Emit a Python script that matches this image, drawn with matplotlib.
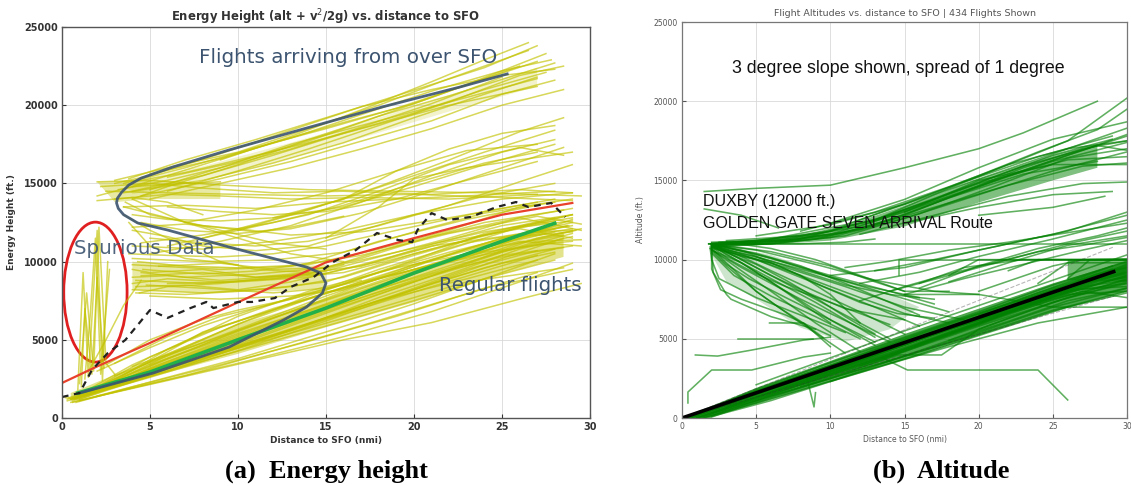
import matplotlib
matplotlib.use("Agg")
import matplotlib.pyplot as plt
from matplotlib.patches import Ellipse

# ---------------- panel (a): energy height ----------------
# regular flights, along the green reference line
REG_TRACKS = [
    ([0.3, 5, 10, 15, 20, 25, 28.5], [1100, 2600, 4300, 6200, 8200, 10200, 11500]),
    ([0.5, 5, 10, 15, 20, 25, 29], [1200, 2900, 4700, 6700, 8700, 10600, 11800]),
    ([0.6, 5, 10, 15, 20, 26, 29.2], [1300, 3100, 5100, 7100, 9000, 11200, 12000]),
    ([0.8, 5, 10, 15, 20, 25, 28], [1000, 2300, 3800, 5500, 7300, 9300, 10500]),
    ([1, 5, 10, 16, 21, 26, 29], [1100, 2200, 3500, 5200, 6800, 8700, 9900]),
    ([0.9, 5, 10, 15, 20, 25, 28.7], [1400, 3300, 5600, 7600, 9500, 11200, 12300]),
    ([1, 4, 8, 12, 16, 20, 24, 28], [1500, 3400, 5400, 7000, 8300, 9500, 10600, 11200]),
    ([0.5, 6, 11, 16, 21, 26, 29.5], [1000, 2400, 3700, 5000, 6100, 7600, 8600]),
    ([1.2, 5, 10, 15, 20, 24, 27.5], [1500, 3600, 6000, 8000, 9800, 11000, 11800]),
    ([1.5, 6, 11, 16, 22, 27, 29.5], [1600, 3600, 5600, 7600, 9600, 11300, 11400]),
    ([0.4, 3, 7, 12, 18, 24, 28], [1300, 2300, 3600, 5300, 7500, 9600, 10800]),
    ([0.7, 4, 9, 14, 19, 25, 29], [1200, 2700, 4700, 6600, 8400, 10400, 11000]),
    ([2, 6, 10, 14, 18, 22, 26, 29], [1800, 4000, 6000, 7800, 9300, 10600, 11700, 12300]),
    ([1, 5, 9, 13, 17, 21, 25, 28.5], [1300, 3000, 4600, 6100, 7700, 9200, 10300, 10900]),
    ([1.5, 5, 8, 12, 16, 20, 26, 29.5], [1700, 3600, 5500, 6900, 8300, 9500, 11300, 11000]),
    ([0.6, 4, 8, 13, 18, 23, 27], [1100, 2500, 3900, 5700, 7500, 8900, 10100]),
    ([2, 5, 9, 13, 17, 22, 27, 29], [2000, 3900, 5800, 7300, 8700, 10000, 11100, 11300]),
    ([3, 6, 10, 14, 19, 24, 29], [2400, 4400, 6500, 8100, 9600, 10700, 12700]),
    ([0.2, 1, 4, 9, 15, 21, 27], [1300, 1200, 2300, 4100, 6300, 8400, 10400]),
    ([1.3, 7, 12, 17, 23, 28.5], [1400, 3500, 5100, 6700, 8700, 9600]),
    ([0.5, 3, 6, 10, 14, 18, 22, 26, 29], [1200, 2000, 3000, 4500, 6000, 7700, 9200, 10800, 11600]),
    ([0.8, 3, 7, 11, 15, 19, 23, 27, 29.5], [1300, 2300, 3700, 5200, 6800, 8300, 9900, 11500, 12100]),
    ([1, 4, 7, 11, 15, 19, 23, 27], [1200, 2400, 3500, 4900, 6400, 7900, 9500, 10700]),
    ([0.3, 2, 5, 9, 13, 17, 21, 25, 28], [1200, 1800, 2800, 4200, 5600, 7100, 8600, 9900, 10600]),
    ([1.8, 5, 9, 13, 17, 21, 25, 28.5], [1600, 3200, 4900, 6500, 8000, 9600, 11000, 11700]),
    ([2.5, 6, 10, 14, 18, 22, 26, 29], [2200, 3800, 5400, 6900, 8500, 10100, 11600, 12100]),
    ([1, 6, 11, 16, 20, 24, 28], [1400, 3000, 4600, 6200, 7500, 8900, 10100]),
    ([4, 8, 12, 16, 20, 24, 28], [3300, 4800, 6400, 7900, 9400, 10900, 11900]),
    ([0.6, 4, 9, 14, 19, 24, 29], [1000, 2000, 3400, 4900, 6500, 8300, 9500]),
    ([2, 7, 12, 17, 22, 27], [1400, 2700, 4300, 5900, 7600, 9300]),
    ([5, 9, 13, 17, 21, 25, 29], [3400, 5100, 6800, 8500, 10100, 11500, 12500]),
    ([3, 7, 11, 15, 19, 23, 27, 29], [2700, 4400, 6100, 7800, 9300, 10800, 11900, 12000]),
    ([2, 5, 8, 11, 14, 17], [3000, 4500, 5900, 7000, 8000, 8800]),
    ([3, 6, 9, 12, 15, 18, 22, 26, 29], [3500, 5200, 6500, 7300, 8200, 9300, 10800, 12200, 13000]),
    ([2.5, 5, 8, 10, 13, 16, 20, 24, 28], [3400, 5000, 6300, 6900, 7600, 8600, 10100, 11800, 12800]),
]

# tracks that start near 4 nmi at 8000-10000 ft
MID_TRACKS = [
    ([4, 8, 12, 15, 20, 25, 29], [8200, 8000, 8300, 8700, 10500, 12000, 13000]),
    ([4.2, 8, 12, 16, 21, 26, 29], [8800, 8600, 8900, 9300, 10800, 12200, 12600]),
    ([4.5, 7, 11, 15, 19, 24, 28.5], [9300, 9000, 9200, 9600, 11000, 12500, 13300]),
    ([4, 9, 13, 17, 22, 27, 29.5], [9800, 9500, 9700, 10400, 11800, 12900, 12400]),
    ([4.8, 8, 12, 15, 18, 23, 28], [8500, 8300, 8000, 8300, 9500, 11200, 12100]),
    ([4.3, 7, 10, 14, 18, 22, 26, 29], [10000, 9700, 9600, 9800, 10800, 12000, 13500, 14000]),
    ([5, 9, 13, 16, 20, 25, 29], [7800, 7600, 7800, 8200, 9800, 11500, 11900]),
    ([4, 6, 9, 13, 17, 21, 26, 29.5], [9000, 9100, 8800, 9100, 10200, 11600, 12800, 12000]),
    ([4.6, 8, 11, 14, 18, 23, 27], [9500, 9200, 9400, 9900, 11300, 12700, 13600]),
    ([6, 10, 14, 18, 22, 26, 29], [8600, 8700, 9000, 10000, 11300, 12100, 11500]),
    ([4.2, 7, 10, 13, 17, 21, 25, 28.8], [8400, 8500, 8200, 8700, 9800, 11000, 11600, 12300]),
    ([5.5, 9, 12, 15, 19, 24, 29], [9700, 9900, 9500, 9600, 10600, 11900, 12800]),
    ([4, 8, 12, 16, 20, 24, 28], [10200, 10000, 10100, 10600, 11900, 13100, 13800]),
    ([4.4, 6, 9, 12, 14.5], [8000, 8400, 8600, 9000, 9200]),
    ([4, 6, 9, 12, 15, 18, 22, 26, 29], [8600, 8900, 8700, 8900, 9400, 10300, 11500, 12800, 13400]),
    ([4.5, 8, 11, 14, 17, 21, 25, 29], [9100, 9300, 9000, 9300, 9700, 11100, 12300, 13000]),
    ([4.2, 7, 10, 13, 16, 20, 24, 28], [8000, 7900, 8100, 8400, 9000, 10400, 11700, 12600]),
    ([4, 5, 8, 11, 14, 16], [9500, 9300, 9500, 9000, 9200, 9800]),
]

# level segments around 14000-15000 ft
LEVEL_TRACKS = [
    ([2, 5, 9, 14, 19, 24, 29.5], [15100, 15200, 14900, 14600, 14500, 14400, 14200]),
    ([2.5, 6, 10, 15, 20, 25, 29], [14500, 14400, 14300, 14200, 14300, 14100, 13900]),
    ([3, 6, 9, 13, 17, 22, 27], [14000, 14300, 14200, 14000, 14100, 14000, 14300]),
    ([2, 4, 7, 9], [14200, 14800, 15000, 15100]),
    ([2.2, 5, 8, 12, 16, 21, 26, 29], [14800, 15000, 14700, 14400, 14500, 14300, 14600, 14400]),
    ([3.5, 7, 11, 15, 19, 23, 28], [13500, 13600, 13400, 13800, 14000, 14200, 14500]),
    ([2, 4, 6, 8], [13900, 14100, 13800, 13000]),
]

# flights arriving from over SFO (upper band)
UPPER_TRACKS = [
    ([3.5, 7, 11, 15, 19, 23, 27], [15000, 16000, 17300, 18500, 19800, 21300, 22800]),
    ([4, 8, 12, 16, 20, 24, 27.5], [14500, 15500, 16800, 18200, 19500, 21000, 22100]),
    ([3, 6, 10, 14, 18, 22, 26.5], [15200, 16000, 17000, 18500, 20000, 21700, 23500]),
    ([4.5, 9, 13, 17, 21, 25, 28], [14200, 15300, 16400, 17700, 19000, 20700, 21600]),
    ([3.8, 7, 11, 15, 19, 24, 27], [15300, 16500, 17800, 19200, 20600, 22400, 23800]),
    ([5, 9, 13, 17, 21, 25, 28.5], [14000, 15000, 16000, 17200, 18500, 20000, 21000]),
    ([4, 8, 12, 16, 20, 23, 26], [14800, 16200, 17600, 18900, 20100, 21300, 22500]),
    ([3.2, 6, 9, 13, 17, 21, 25], [14600, 15200, 16000, 17200, 18600, 20100, 21800]),
    ([4, 7, 10, 14, 18, 22, 27], [15100, 15700, 16500, 17600, 18800, 20000, 21200]),
    ([6, 10, 14, 18, 22, 26, 28.5], [14500, 15800, 17200, 18700, 20200, 21900, 22500]),
    ([9, 13, 17, 21, 24, 26.5], [16500, 18000, 19700, 21500, 22900, 24000]),
    ([5, 9, 13, 17, 21, 25, 27.8], [15600, 16600, 17900, 19400, 20900, 22200, 22900]),
    ([4, 6, 10, 14, 18, 22, 26, 28], [14000, 14800, 16200, 17800, 19300, 20600, 22000, 22700]),
    ([3.5, 8, 12, 16, 20, 24, 27], [14400, 15200, 16300, 17600, 19200, 20700, 21800]),
    ([6, 10, 14, 18, 22, 25, 27.5], [15400, 16400, 17700, 19300, 20900, 22200, 23300]),
    ([3, 5, 9, 13, 17, 21, 25, 28], [15000, 15500, 16900, 18400, 19900, 21000, 21900, 22300]),
    ([5, 9, 13, 17, 20, 24, 27], [14600, 16000, 17500, 18700, 19600, 20800, 21700]),
]

# tracks between the two bands
CROSS_TRACKS = [
    ([6, 10, 14, 18, 22, 26, 28.5], [11000, 12000, 13300, 14800, 16500, 18300, 19200]),
    ([8, 12, 16, 20, 24, 28], [11500, 12700, 14000, 15500, 17000, 18400]),
    ([5, 9, 13, 17, 21, 25, 28], [10500, 11300, 12300, 13800, 15500, 17000, 17800]),
    ([7, 11, 15, 19, 23, 27], [12500, 13300, 14400, 15800, 17100, 17500]),
    ([10, 14, 18, 22, 26, 28.5], [12000, 13000, 14500, 16200, 17300, 16800]),
    ([4.5, 8, 12, 16, 20, 24, 27], [11200, 11700, 12500, 13600, 15000, 16300, 17000]),
    ([12, 16, 19, 22, 25, 28], [12800, 14000, 15800, 17200, 18200, 18700]),
    ([15, 18, 20, 23, 26, 29], [11500, 13500, 15300, 16000, 16500, 17000]),
    ([3.5, 6, 9, 12, 15], [13500, 12800, 12000, 11200, 10800]),
    ([4, 7, 10, 13, 16], [14000, 12500, 11500, 10500, 10000]),
    ([3.5, 5, 7, 9, 11, 14], [13000, 12000, 11000, 10000, 9500, 9300]),
    ([4, 6, 8, 11, 14, 17, 20, 24, 28], [12000, 11600, 11000, 10700, 11000, 12000, 13000, 14200, 15000]),
    ([3.8, 5, 7, 10], [12500, 11000, 10200, 9800]),
    ([4, 6, 9, 12, 16, 20, 24, 28], [13000, 12700, 12600, 12800, 13500, 14800, 16200, 17500]),
    ([4.5, 7, 10, 13, 17, 21, 25, 28.5], [12500, 12000, 11800, 12100, 13100, 14500, 16000, 17300]),
    ([5, 8, 11, 14, 18, 22, 26, 29], [11500, 11200, 11000, 11300, 12300, 13600, 15100, 16200]),
    ([6, 9, 12, 15, 19, 23, 27], [13500, 13200, 13000, 13200, 14000, 15200, 16400]),
    ([3.8, 6, 9, 12, 15, 19, 24, 28], [10500, 10400, 10300, 10500, 11000, 12000, 13200, 14000]),
    ([4, 8, 12, 16, 20, 25, 29], [11000, 10800, 11300, 12000, 13000, 14000, 14400]),
    ([3.6, 5, 8, 11, 13, 16], [13800, 13000, 12300, 11900, 12200, 12900]),
    ([4, 7, 10, 13, 17, 22, 27], [12200, 12400, 12100, 11700, 11900, 12800, 13800]),
]

# spurious spikes close to the airport
SPIKE_TRACKS = [
    ([0.9, 1.2, 1.5, 2.0, 2.3, 2.6], [1800, 9300, 2600, 12000, 2400, 10000]),
    ([1.0, 1.4, 1.8, 2.1, 2.5, 3.0], [2200, 8000, 3000, 12200, 3500, 2800]),
    ([1.3, 1.6, 1.9, 2.2, 2.7], [2500, 6500, 11500, 2800, 9500]),
    ([1.5, 2.5, 3.5, 4.5], [3000, 5000, 7200, 8800]),
    ([1.1, 1.3, 1.7, 2.0, 2.4], [2000, 7000, 2800, 9000, 3200]),
]

# dense cores of the bundles (upper edge then lower edge)
REG_CORE_X = [0.5, 5, 10, 15, 20, 25, 28.5, 28.5, 25, 20, 15, 10, 5, 0.5]
REG_CORE_Y = [1600, 3700, 6000, 7600, 9400, 11100, 11900, 10300, 9200, 7400, 5800, 4100, 2600, 1100]
MID_CORE_X = [4, 8, 12, 15, 15, 12, 8, 4]
MID_CORE_Y = [10000, 9700, 9600, 9800, 8300, 8100, 8000, 8200]
LEVEL_CORE_X = [2, 5, 9, 9, 5, 3]
LEVEL_CORE_Y = [15100, 15200, 15000, 14000, 14000, 13800]
UPPER_CORE_X = [3.5, 8, 13, 18, 23, 27, 27, 22, 17, 12, 7, 4]
UPPER_CORE_Y = [15100, 16100, 17600, 19200, 21000, 22400, 21200, 19600, 17900, 16300, 15000, 14300]

# overlay curves
BLUE_X = [25.3, 22.6, 18.2, 13.9, 9.5, 6.3, 4.5, 3.8, 3.4, 3.15, 3.1, 3.2, 3.5, 4.3, 6.0, 9.5,
          11.7, 13.9, 14.7, 15.0, 14.8, 13.9, 12.6, 9.5, 5.2, 1.0]
BLUE_Y = [22000, 21160, 19890, 18540, 17140, 16050, 15340, 14900, 14450, 14050, 13750, 13400,
          13000, 12470, 12020, 10930, 10290, 9650, 9270, 8630, 7990, 7100, 6270, 4540, 2880, 1600]
RED_X = [0, 2, 5, 10, 15, 20, 25, 29]
RED_Y = [2240, 3300, 4800, 7400, 9950, 11500, 13000, 13750]
GREEN_X = [0.9, 5, 10, 15, 20, 25, 28]
GREEN_Y = [1600, 2940, 5000, 7030, 9270, 11300, 12450]
MEAN_X = [0, 1, 1.7, 2.6, 3.6, 5, 6, 7.3, 8.2, 8.6, 10, 10.8, 12.1, 13, 14.3, 15.4, 16.7,
          17.9, 19.1, 19.9, 20.2, 21, 21.9, 23.2, 24.7, 25.8, 26.5, 27.8, 28.6]
MEAN_Y = [1340, 1600, 3070, 4150, 4990, 6900, 6400, 7030, 7420, 7030, 7420, 7420, 7670, 8380,
          9010, 9970, 10740, 11830, 11380, 11250, 12020, 13100, 12660, 12850, 13490, 13810,
          13490, 13750, 12850]

# ---------------- panel (b): altitude ----------------
GLIDE_TRACKS = [
    ([0.2, 5, 10, 15, 20, 25, 30], [0, 1600, 3200, 4800, 6400, 8000, 9500]),
    ([0.5, 5, 10, 15, 20, 25, 30], [0, 1400, 2900, 4400, 6000, 7600, 9000]),
    ([1, 5, 10, 15, 20, 25, 30], [0, 1200, 2700, 4200, 5800, 7300, 8600]),
    ([1.5, 6, 10, 15, 20, 25, 30], [0, 1400, 2500, 3900, 5400, 7000, 8200]),
    ([0.3, 5, 10, 15, 20, 25, 30], [0, 1800, 3500, 5100, 6700, 8400, 9900]),
    ([0.8, 5, 9, 14, 19, 24, 30], [100, 1500, 2800, 4300, 5900, 7500, 9300]),
    ([0.5, 4, 8, 13, 18, 23, 28, 30], [50, 1300, 2500, 4000, 5600, 7000, 8600, 8900]),
    ([1.2, 5, 10, 14, 18, 22, 26, 30], [0, 1300, 2800, 4000, 5400, 6700, 7800, 8000]),
    ([0, 4, 9, 14, 19, 24, 29], [0, 1300, 2900, 4500, 6100, 7700, 9300]),
    ([0.6, 6, 11, 16, 21, 26, 30], [0, 1800, 3300, 5000, 6600, 8300, 9700]),
    ([1, 7, 12, 17, 22, 27, 30], [0, 2000, 3600, 5300, 7000, 8500, 9100]),
    ([0.4, 3, 7, 11, 16, 21, 26, 30], [0, 900, 2100, 3300, 5000, 6500, 8000, 8500]),
    ([2, 6, 10, 14, 18, 22, 26, 30], [300, 1500, 2700, 3900, 5300, 6700, 8100, 8300]),
    ([0.2, 5, 10, 14, 18, 22, 27, 30], [0, 1700, 3300, 4700, 6000, 7200, 8600, 9200]),
    ([1.4, 5, 8, 12, 17, 22, 27, 30], [0, 1100, 2100, 3400, 5000, 6600, 8000, 7600]),
    ([8, 12, 14.6, 17.5, 20, 25, 30], [2000, 3200, 3980, 3980, 5600, 7300, 8800]),
    ([10, 15, 18, 24, 30], [2300, 3700, 4500, 6000, 7000]),
    ([5, 10, 15, 20, 25, 30], [2100, 3800, 5500, 7100, 8700, 10300]),
    ([1, 5, 10, 15, 20, 25, 30], [0, 1100, 2500, 3900, 5300, 6800, 8000]),
    ([1.5, 6, 11, 16, 21, 26, 30], [0, 1200, 2600, 4000, 5500, 7000, 7900]),
    ([0.8, 4, 8, 12, 16, 20, 24, 28, 30], [0, 1000, 2200, 3500, 4800, 6100, 7400, 8500, 8900]),
    ([2, 6, 10, 14, 18, 22, 26, 30], [100, 1100, 2300, 3600, 4900, 6300, 7600, 8500]),
    ([0.5, 5, 10, 15, 20, 25, 30], [0, 1500, 3100, 4600, 6200, 7800, 9200]),
    ([0.3, 4, 9, 14, 19, 24, 29], [0, 1400, 3000, 4600, 6200, 7900, 9600]),
    ([3, 7, 11, 15, 19, 23, 27, 30], [700, 1900, 3100, 4300, 5600, 7000, 8300, 8700]),
    ([1, 5, 9, 13, 17, 21, 25, 29], [0, 1300, 2600, 3900, 5300, 6700, 8100, 9400]),
    ([12, 16, 20, 24, 28, 30], [3300, 4600, 5900, 7300, 8800, 9400]),
    ([16, 20, 25, 30], [4700, 6000, 7600, 9000]),
    ([18, 22, 26, 30], [4900, 6100, 7400, 8200]),
    ([20, 24, 28, 30], [6500, 7800, 9000, 9600]),
    ([0.6, 3, 6, 9, 12, 16, 20, 24, 28, 30], [0, 1000, 2000, 3000, 3900, 5300, 6600, 7900, 9100, 9500]),
    ([1.8, 4, 7, 10, 13, 17, 21, 25, 30], [0, 700, 1600, 2500, 3500, 4900, 6200, 7500, 8700]),
]

PLATEAU_TRACKS = [
    ([14.6, 14.6, 20, 30], [9000, 10000, 10000, 10000]),
    ([18, 20, 30], [9000, 10000, 10000]),
    ([22, 24, 30], [9300, 10000, 10000]),
    ([16, 19, 23, 30], [8500, 9500, 10000, 10000]),
    ([20, 25, 27, 30], [8000, 9600, 10000, 10000]),
    ([24, 26, 30], [8500, 9800, 9800]),
    ([26, 27.5, 30], [8800, 10000, 10000]),
    ([1.8, 5, 10, 15, 20, 25, 30], [11000, 11000, 11000, 11000, 11000, 11000, 11000]),
    ([1.8, 4, 8, 11, 13], [11000, 11000, 11000, 11100, 11300]),
    ([15, 20, 25, 30], [7800, 7800, 7000, 7000]),
]

BUNDLE_TRACKS = [
    ([1.8, 5, 10, 15, 20, 25, 30], [11000, 11100, 11600, 13000, 14600, 16200, 17400]),
    ([2, 6, 10, 15, 20, 25, 30], [10900, 11000, 11400, 12600, 14100, 15600, 16800]),
    ([2, 5, 10, 14, 19, 24, 29], [11000, 11200, 11800, 13200, 14900, 16500, 17800]),
    ([1.9, 6, 11, 16, 21, 26, 30], [10800, 11000, 11500, 12900, 14600, 16400, 17000]),
    ([2.2, 7, 12, 17, 22, 27, 30], [11000, 11300, 12100, 13700, 15300, 16900, 17900]),
    ([2, 5, 9, 13, 18, 23, 28], [10950, 11000, 11300, 12200, 13900, 15400, 16200]),
    ([2, 6, 11, 16, 21, 26, 30], [11000, 11300, 12200, 13800, 15400, 17000, 18300]),
    ([3, 8, 13, 18, 23, 28, 30], [11200, 11500, 12500, 14200, 15900, 17200, 16900]),
    ([2.5, 7, 12, 17, 22, 27, 30], [11100, 11200, 11900, 13300, 14700, 15900, 16100]),
    ([5, 10, 15, 20, 24, 28, 30], [11500, 12200, 13500, 15300, 16800, 18200, 19500]),
    ([8, 13, 18, 22, 26, 30], [11800, 13000, 14600, 16000, 17500, 20200]),
    ([10, 15, 20, 25, 30], [12300, 13800, 15800, 17600, 18700]),
    ([13, 18, 22, 26, 30], [12500, 14500, 16000, 17000, 17500]),
    ([15, 20, 25, 30], [13000, 15000, 16000, 16000]),
    ([12, 17, 22, 27, 30], [11600, 12800, 14000, 14800, 14900]),
    ([15, 20, 25, 29], [12300, 13300, 14100, 14300]),
    ([20, 25, 28.5], [12800, 13300, 14000]),
    ([1.5, 5, 10, 15, 20, 23, 28], [14300, 14500, 14700, 15800, 17000, 18000, 20000]),
    ([1.5, 4, 6.5], [13200, 12800, 12000]),
    ([2, 6, 10, 14, 18, 22, 26, 30], [11000, 11100, 11500, 12500, 13900, 15300, 16600, 17800]),
    ([2, 5, 9, 13, 17, 21, 25, 29], [11100, 11200, 11600, 12500, 13800, 15200, 16600, 17600]),
    ([3, 7, 11, 15, 19, 23, 27, 30], [11000, 11200, 11700, 12800, 14300, 15800, 17000, 17500]),
    ([2, 8, 14, 20, 26, 30], [10900, 11300, 12800, 14800, 16300, 16500]),
]

RISE_TRACKS = [
    ([12, 16, 20, 25, 30], [8500, 9200, 10200, 11300, 12500]),
    ([14, 18, 22, 26, 30], [8000, 9000, 10000, 11000, 11800]),
    ([10, 15, 20, 25, 30], [9000, 9500, 10600, 11600, 12800]),
    ([16, 20, 24, 28, 30], [8200, 9600, 10700, 11500, 12000]),
    ([13, 17, 21, 26, 30], [9300, 10000, 10800, 11800, 13000]),
    ([18, 22, 26, 30], [8600, 9800, 10900, 11500]),
    ([15, 19, 23, 27, 30], [7800, 8800, 9700, 10600, 11200]),
    ([11, 14, 18, 22, 26, 30], [9500, 9900, 10600, 11100, 11700, 12300]),
    ([12, 15, 18, 21, 24, 27, 30], [7400, 8300, 9100, 9800, 10500, 10900, 11400]),
]

FAN_TRACKS = [
    ([2, 5, 8, 11, 14], [11000, 9500, 8000, 6500, 5000]),
    ([2, 4, 7, 10, 13], [10900, 9800, 8000, 6200, 4600]),
    ([2, 5, 9, 13, 16], [11000, 10000, 8500, 7000, 5800]),
    ([1.9, 4, 6, 9, 12], [10700, 9300, 8000, 6000, 4200]),
    ([2, 6, 10, 14, 18], [11000, 10100, 8900, 7800, 6700]),
    ([2, 5, 8, 11, 14, 17], [10800, 10200, 9300, 8400, 7800, 7500]),
    ([2, 3, 5, 8, 11], [10500, 9600, 8000, 6000, 4100]),
    ([2, 4, 8, 12, 16], [10900, 10400, 9400, 8400, 7600]),
    ([2, 3.5, 6, 9, 12], [10400, 9000, 7700, 6400, 5000]),
    ([2, 5, 9, 13, 17, 20], [10950, 10600, 9700, 8700, 8000, 7800]),
    ([2, 2.1, 3, 3.3, 6, 9], [10800, 9200, 7800, 7500, 6400, 5600]),
    ([2, 3, 4, 6, 8, 10, 12], [11000, 10500, 10200, 9800, 9000, 7800, 6000]),
    ([3, 6, 9, 12, 15], [11100, 10700, 10000, 9000, 8000]),
    ([2, 6, 10, 13, 15, 18], [11000, 10500, 9600, 8600, 8000, 8000]),
    ([2, 4, 6, 8, 10], [10600, 9800, 8600, 7300, 6000]),
    ([2, 5, 7, 9, 11, 13], [10800, 9700, 8700, 7600, 6400, 5300]),
    ([2, 4, 7, 11, 15, 19], [10700, 10300, 9500, 8300, 7000, 6200]),
    ([2, 3, 5, 7, 9, 11, 13], [10900, 10300, 9300, 8300, 7300, 6200, 5100]),
    ([2, 4, 6, 9, 12, 15], [11000, 10200, 9300, 8000, 6700, 5300]),
    ([2, 5, 8, 12, 15, 18], [10800, 10000, 9000, 7600, 6600, 6000]),
    ([2.2, 4, 6, 8, 10, 12, 14], [10500, 9500, 8500, 7500, 6600, 5700, 4800]),
    ([2, 4, 7, 10, 14, 17], [11000, 10600, 9800, 9000, 8000, 7200]),
    ([2, 3, 4.5, 7, 10, 13], [10600, 9700, 8800, 7600, 6200, 4800]),
    ([2, 5, 8, 11, 13, 16], [10900, 10400, 9600, 8500, 7700, 6500]),
    ([1.9, 2, 2.5, 5, 8, 11], [10700, 10000, 8800, 7600, 6500, 5400]),
    ([2, 2, 2.6, 4, 7, 10], [11000, 9400, 8100, 7500, 6500, 5200]),
    ([2, 3.2, 5, 7, 10, 14], [10800, 10000, 9100, 8300, 7300, 5900]),
    ([2.1, 4, 6, 8.5, 11, 15], [10900, 10000, 9000, 7900, 6900, 6200]),
    ([2, 4.5, 7, 9.5, 12, 14.5, 17], [11000, 10400, 9400, 8300, 7300, 6600, 6300]),
    ([2, 3, 4, 5, 6.5, 8, 9.5], [10700, 9800, 8900, 8000, 7000, 6100, 5100]),
]

MISC_TRACKS = [
    ([0.4, 0.4, 2, 4.7, 8.2, 10], [950, 1640, 3030, 3030, 3850, 4100]),
    ([0.9, 2.4, 4.7, 8.2, 10], [3980, 3910, 4290, 4920, 5100]),
    ([3.8, 8.8], [4990, 4990]),
    ([5.9, 8.2, 10], [6000, 6000, 4500]),
    ([8.4, 8.9, 9.0], [2600, 700, 1600]),
    ([13.5, 15.2, 24.0, 26.0], [3800, 3030, 3030, 1140]),
]

GLIDE_CORE_X = [0, 5, 10, 15, 20, 25, 30, 30, 25, 20, 15, 10, 5, 1.5]
GLIDE_CORE_Y = [0, 1900, 3600, 5300, 6900, 8500, 9900, 8000, 6700, 5200, 3700, 2300, 900, 0]
BUNDLE_CORE_X = [2, 5, 10, 15, 20, 25, 28, 28, 25, 20, 15, 10, 5, 2]
BUNDLE_CORE_Y = [11100, 11200, 11800, 13400, 15100, 16600, 17300, 15800, 15000, 13600, 12100, 11200, 10900, 10800]
FAN_CORE_X = [2, 6, 10, 14, 16, 14, 11, 8, 5, 3, 2]
FAN_CORE_Y = [11000, 10300, 9000, 7800, 7000, 5600, 4800, 5700, 7500, 8600, 10300]
PLAT_CORE_X = [26, 30, 30, 26]
PLAT_CORE_Y = [8700, 8600, 10100, 10000]

SLOPE_X = [0, 29.1]
SLOPE_Y = [0, 9240]
SLOPE_HI_Y = [0, 10800]
SLOPE_LO_Y = [0, 7700]

YELLOW = (0.76, 0.76, 0.0)
DKGREEN = (0.0, 0.5, 0.0)
NAVY = "#3c5470"


def _style_axes(ax, bold, tick_size, tick_color):
    ax.set_xlim(0, 30)
    ax.set_ylim(0, 25000)
    ax.set_xticks(range(0, 31, 5))
    ax.set_yticks(range(0, 25001, 5000))
    ax.grid(True, color="#d9d9d9", lw=0.6)
    ax.set_axisbelow(True)
    ax.tick_params(direction="in", length=3, labelsize=tick_size, colors=tick_color, pad=3)
    for lab in ax.get_xticklabels() + ax.get_yticklabels():
        lab.set_fontweight("bold" if bold else "normal")


def _plot_energy(ax):
    _style_axes(ax, True, 7, "#333333")
    for sp in ax.spines.values():
        sp.set_color("#555555")
        sp.set_linewidth(1.0)

    cores = [(REG_CORE_X, REG_CORE_Y, 0.45), (MID_CORE_X, MID_CORE_Y, 0.35),
             (LEVEL_CORE_X, LEVEL_CORE_Y, 0.35), (UPPER_CORE_X, UPPER_CORE_Y, 0.2)]
    for cx, cy, a in cores:
        ax.fill(cx, cy, color=YELLOW, alpha=a, lw=0)
    for group in [REG_TRACKS, MID_TRACKS, LEVEL_TRACKS, UPPER_TRACKS, CROSS_TRACKS, SPIKE_TRACKS]:
        for xs, ys in group:
            ax.plot(xs, ys, color=YELLOW, alpha=0.65, lw=1.1)

    ax.plot(RED_X, RED_Y, color="#e8402a", lw=1.6)
    ax.plot(GREEN_X, GREEN_Y, color="#22b04b", lw=2.6)
    ax.plot(BLUE_X, BLUE_Y, color=NAVY, lw=2.0, alpha=0.9)
    ax.plot(MEAN_X, MEAN_Y, color="#222222", lw=1.6, ls=(0, (3, 2.5)))
    ax.add_patch(Ellipse((1.9, 8050), 3.6, 8950, fill=False, ec="#e02020", lw=2.0))

    ax.text(7.8, 23080, "Flights arriving from over SFO", fontsize=14.3, color=NAVY, va="center")
    ax.text(0.7, 10870, "Spurious Data", fontsize=14.3, color=NAVY, va="center", alpha=0.9)
    ax.text(21.4, 8500, "Regular flights", fontsize=14.2, color=NAVY, va="center")

    ax.set_title("Energy Height (alt + v$^2$/2g) vs. distance to SFO",
                 fontsize=8.4, fontweight="bold", color="#333333", pad=4)
    ax.set_xlabel("Distance to SFO (nmi)", fontsize=6.5, fontweight="bold", color="#333333", labelpad=3)
    ax.set_ylabel("Energy Height (ft.)", fontsize=6.5, fontweight="bold", color="#333333", labelpad=6)


def _plot_altitude(ax):
    _style_axes(ax, False, 5.5, "#555555")
    for sp in ax.spines.values():
        sp.set_color("#777777")
        sp.set_linewidth(0.9)

    cores = [(GLIDE_CORE_X, GLIDE_CORE_Y, 0.7), (BUNDLE_CORE_X, BUNDLE_CORE_Y, 0.5),
             (FAN_CORE_X, FAN_CORE_Y, 0.2), (PLAT_CORE_X, PLAT_CORE_Y, 0.55)]
    for cx, cy, a in cores:
        ax.fill(cx, cy, color=DKGREEN, alpha=a, lw=0)
    for group in [GLIDE_TRACKS, PLATEAU_TRACKS, BUNDLE_TRACKS, RISE_TRACKS, FAN_TRACKS, MISC_TRACKS]:
        for xs, ys in group:
            ax.plot(xs, ys, color=DKGREEN, alpha=0.62, lw=1.15)

    ax.plot(SLOPE_X, SLOPE_HI_Y, color="#333333", lw=0.8, ls="--", alpha=0.35)
    ax.plot(SLOPE_X, SLOPE_LO_Y, color="#333333", lw=0.8, ls="--", alpha=0.35)
    ax.plot(SLOPE_X, SLOPE_Y, color="black", lw=2.6)

    ax.text(14.6, 22040, "3 degree slope shown, spread of 1 degree", fontsize=12.8,
            family="Liberation Sans", ha="center", va="center", color="#111111")
    ax.text(1.4, 13640, "DUXBY (12000 ft.)", fontsize=11.5, family="Liberation Sans",
            va="center", color="#111111")
    ax.text(1.4, 12310, "GOLDEN GATE SEVEN ARRIVAL Route", fontsize=11.5, family="Liberation Sans",
            va="center", color="#111111")

    ax.set_title("Flight Altitudes vs. distance to SFO | 434 Flights Shown",
                 fontsize=6.8, color="#555555", pad=4)
    ax.set_xlabel("Distance to SFO (nmi)", fontsize=5.5, color="#555555", labelpad=3)
    ax.set_ylabel("Altitude (ft.)", fontsize=5.5, color="#555555", labelpad=6)


def main() -> None:
    fig = plt.figure(figsize=(11.31, 4.86), dpi=100)
    ax_a = fig.add_axes([0.0548, 0.1399, 0.4668, 0.8045])
    ax_b = fig.add_axes([0.603, 0.1399, 0.3935, 0.8148])
    _plot_energy(ax_a)
    _plot_altitude(ax_b)

    fig.text(0.289, 0.031, "(a)  Energy height", fontsize=19, fontweight="bold",
             family="Liberation Serif", ha="center", va="center")
    fig.text(0.832, 0.031, "(b)  Altitude", fontsize=19, fontweight="bold",
             family="Liberation Serif", ha="center", va="center")

    fig.savefig("out.png", dpi=100)
    plt.close(fig)


if __name__ == "__main__":
    main()
